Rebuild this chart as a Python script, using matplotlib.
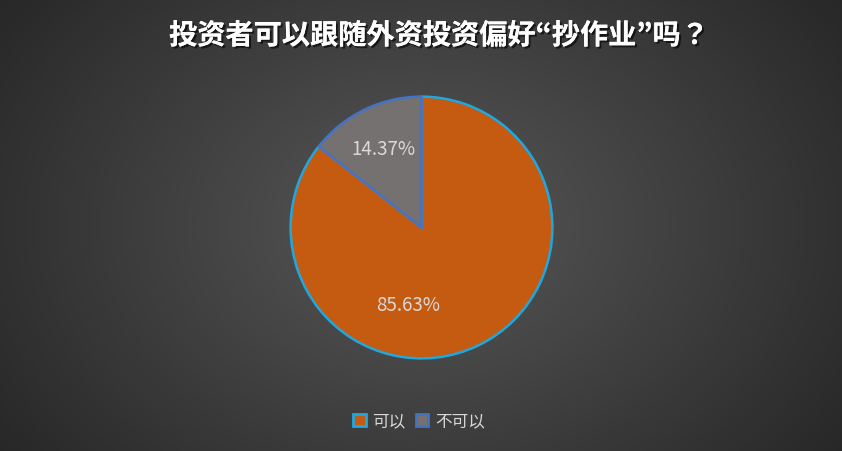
import numpy as np
import matplotlib
matplotlib.use('Agg')
import matplotlib.pyplot as plt
import matplotlib.patches as mpatches
import matplotlib.patheffects as pe

plt.rcParams['font.family'] = ['Noto Sans CJK SC', 'DejaVu Sans']

title = '投资者可以跟随外资投资偏好“抄作业”吗？'
labels = ['可以', '不可以']
values = [85.63, 14.37]
colors = ['#C55A11', '#767171']
edges = ['#1FA8E0', '#4472C4']

W, H = 842, 452
fig = plt.figure(figsize=(W / 100, H / 100), dpi=100)

# radial gradient background
bg = fig.add_axes([0, 0, 1, 1])
yy, xx = np.mgrid[0:H, 0:W]
d = np.sqrt(((xx - 421) / 560.0) ** 2 + ((yy - 226) / 420.0) ** 2)
d = np.clip(d / d.max(), 0, 1)
lvl = 0.345 - (0.345 - 0.155) * d
bg.imshow(np.dstack([lvl, lvl, lvl]), extent=[0, 1, 0, 1], aspect='auto')
bg.axis('off')

# pie axes: centre (421.5, 228.5) px, radius 133.5 px
cx, cy, r = 421.5, 228.5, 133.5
ax = fig.add_axes([(cx - r) / W, 1 - (cy + r) / H, 2 * r / W, 2 * r / H])
wedges, _, autotexts = ax.pie(values, colors=colors, startangle=90, counterclock=False,
                              autopct='%.2f%%', pctdistance=0.67,
                              textprops=dict(color='#D9D9D9', fontsize=13.5))
for w, ec in zip(wedges, edges):
    w.set_edgecolor(ec); w.set_linewidth(1.8)
autotexts[0].set_position((-0.1, -0.59))
ax.set_xlim(-1.02, 1.02); ax.set_ylim(-1.02, 1.02)
ax.set_aspect('equal'); ax.axis('off')

fig.text(0.522, 0.918, title, ha='center', va='center', fontsize=20.3, fontweight='bold',
         color='white', family=['Noto Sans CJK JP', 'DejaVu Sans'],
         path_effects=[pe.withSimplePatchShadow(offset=(1.5, -1.5), shadow_rgbFace='black', alpha=0.6),
                       pe.Normal()])

handles = [mpatches.Patch(facecolor=c, edgecolor=e, linewidth=2, label=l)
           for c, e, l in zip(colors, edges, labels)]
fig.legend(handles=handles, loc='center', bbox_to_anchor=(419 / W, 1 - 422 / H), ncol=2,
           frameon=False, fontsize=12, labelcolor='#D9D9D9', handlelength=0.75,
           handleheight=0.75, handletextpad=0.4, columnspacing=0.6)

fig.savefig('out.png', dpi=100)
